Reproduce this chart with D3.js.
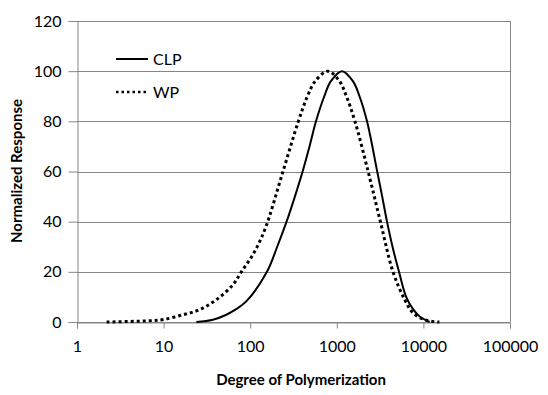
<!DOCTYPE html>
<html>
<head>
<meta charset="utf-8">
<script src="https://cdn.jsdelivr.net/npm/d3@7"></script>
<style>
  body { margin: 0; background: #fff; }
  svg { font-family: Lato, "Open Sans", sans-serif; }
</style>
</head>
<body>
<script>
// Degree of polymerization vs normalized response
const clpDP = [23.9, 37, 53, 68, 90, 156, 205, 263, 328, 403, 484, 575, 717, 855, 1148, 1535, 1828, 2233, 2928, 3344, 3800, 4399, 5228, 6324, 7625, 9060, 11800];
const clpResp = [0, 0.9, 2.9, 5, 8.2, 20, 30, 40, 50, 60, 70, 80, 90, 96, 100, 96, 90, 80, 60, 50, 40, 30, 20, 10, 5, 2.2, 0];
const wpDP = [2.2, 6.9, 10, 16.8, 26, 40.7, 63, 79, 108, 147, 239, 360, 458, 563, 792, 1074, 1290, 1620, 2300, 3187, 4456, 6085, 7590, 10800, 15300];
const wpResp = [0, 0.5, 1, 2.9, 4.9, 8.9, 14.8, 20, 27, 36.7, 60, 80, 90, 96, 100, 96, 90, 80, 60, 40, 20, 8.9, 3.6, 0.7, 0];
const xTicks = [1, 10, 100, 1000, 10000, 100000];
const yTicks = [0, 20, 40, 60, 80, 100, 120];

const width = 548, height = 395;
const margin = { top: 21, right: 38, bottom: 73, left: 77 };
const innerWidth = width - margin.left - margin.right;
const innerHeight = height - margin.top - margin.bottom;
const grey = "#868686";

const svg = d3.select("body")
    .append("svg")
    .attr("width", width)
    .attr("height", height);

const g = svg.append("g")
    .attr("transform", `translate(${margin.left},${margin.top})`);

const xScale = d3.scaleLog()
    .domain([1, 100000])
    .range([0, innerWidth]);

const yScale = d3.scaleLinear()
    .domain([0, 120])
    .range([innerHeight, 0]);

// horizontal gridlines
g.selectAll(".grid")
    .data(yTicks)
    .enter()
    .append("line")
    .attr("x1", 0)
    .attr("x2", innerWidth)
    .attr("y1", d => Math.round(yScale(d)) + 0.5)
    .attr("y2", d => Math.round(yScale(d)) + 0.5)
    .attr("stroke", grey);

// right border of plot area
g.append("line")
    .attr("x1", innerWidth + 0.5).attr("x2", innerWidth + 0.5)
    .attr("y1", 0).attr("y2", innerHeight)
    .attr("stroke", grey);

// y axis
const yAxis = g.append("g")
    .attr("transform", "translate(0.5,0)")
    .call(d3.axisLeft(yScale).tickValues(yTicks).tickSize(9).tickPadding(7).tickFormat(d3.format("d")));

// x axis
const xAxis = g.append("g")
    .attr("transform", `translate(0,${innerHeight + 0.5})`)
    .call(d3.axisBottom(xScale).tickValues(xTicks).tickSize(6).tickPadding(12).tickFormat(d3.format("d")));

[yAxis, xAxis].forEach(a => {
    a.attr("font-size", 16).attr("font-family", "Lato, sans-serif");
    a.select(".domain").attr("stroke", grey);
    a.selectAll(".tick line").attr("stroke", grey);
    a.selectAll(".tick text").attr("fill", "#000");
});

const line = d3.line()
    .x(d => xScale(d[0]))
    .y(d => yScale(d[1]))
    .curve(d3.curveCatmullRom.alpha(0.5));

g.append("path")
    .datum(wpDP.map((d, i) => [d, wpResp[i]]))
    .attr("d", line)
    .attr("fill", "none")
    .attr("stroke", "#000")
    .attr("stroke-width", 3)
    .attr("stroke-dasharray", "3,3");

g.append("path")
    .datum(clpDP.map((d, i) => [d, clpResp[i]]))
    .attr("d", line)
    .attr("fill", "none")
    .attr("stroke", "#000")
    .attr("stroke-width", 2);

// legend
const legend = svg.append("g");
legend.append("line")
    .attr("x1", 116).attr("x2", 148).attr("y1", 59).attr("y2", 59)
    .attr("stroke", "#000").attr("stroke-width", 2);
legend.append("text")
    .attr("x", 153).attr("y", 65)
    .attr("font-size", 16)
    .text("CLP");
legend.append("line")
    .attr("x1", 116).attr("x2", 147).attr("y1", 92).attr("y2", 92)
    .attr("stroke", "#000").attr("stroke-width", 2.5)
    .attr("stroke-dasharray", "2.5,3");
legend.append("text")
    .attr("x", 153).attr("y", 98)
    .attr("font-size", 16)
    .text("WP");

// axis titles
svg.append("text")
    .attr("x", 301).attr("y", 385)
    .attr("text-anchor", "middle")
    .attr("font-size", 15)
    .attr("font-weight", "bold")
    .text("Degree of Polymerization");

svg.append("text")
    .attr("transform", "translate(22,171) rotate(-90)")
    .attr("text-anchor", "middle")
    .attr("font-size", 15)
    .attr("font-weight", "bold")
    .text("Normalized Response");
</script>
</body>
</html>
